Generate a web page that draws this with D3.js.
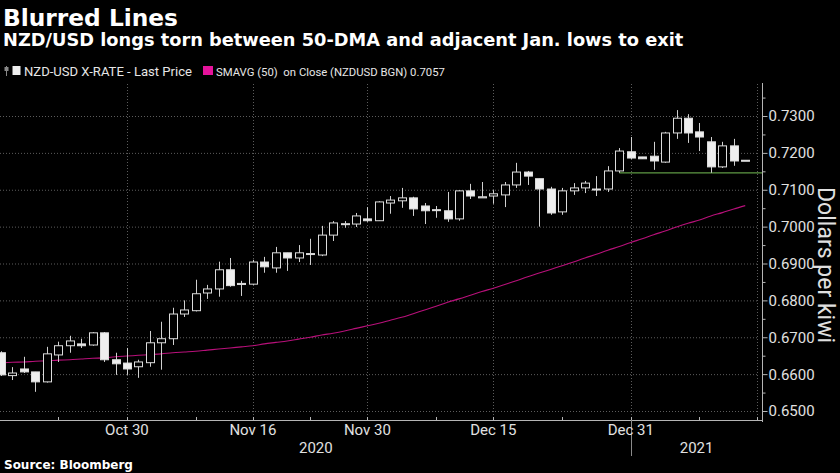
<!DOCTYPE html>
<html>
<head>
<meta charset="utf-8">
<script src="https://cdn.jsdelivr.net/npm/d3@7"></script>
<style>
  html, body { margin: 0; padding: 0; background: #000; }
  svg { display: block; }
</style>
</head>
<body>
<div id="chart"></div>
<script>
/* NZD/USD daily candles with 50-day moving average, Bloomberg style */

// trading days (weekdays, as Bloomberg FX shows them)
var dates = [
  "2020-10-15","2020-10-16","2020-10-19","2020-10-20","2020-10-21","2020-10-22","2020-10-23",
  "2020-10-26","2020-10-27","2020-10-28","2020-10-29","2020-10-30",
  "2020-11-02","2020-11-03","2020-11-04","2020-11-05","2020-11-06",
  "2020-11-09","2020-11-10","2020-11-11","2020-11-12","2020-11-13",
  "2020-11-16","2020-11-17","2020-11-18","2020-11-19","2020-11-20",
  "2020-11-23","2020-11-24","2020-11-25","2020-11-26","2020-11-27",
  "2020-11-30","2020-12-01","2020-12-02","2020-12-03","2020-12-04",
  "2020-12-07","2020-12-08","2020-12-09","2020-12-10","2020-12-11",
  "2020-12-14","2020-12-15","2020-12-16","2020-12-17","2020-12-18",
  "2020-12-21","2020-12-22","2020-12-23","2020-12-24","2020-12-25",
  "2020-12-28","2020-12-29","2020-12-30","2020-12-31","2021-01-01",
  "2021-01-04","2021-01-05","2021-01-06","2021-01-07","2021-01-08",
  "2021-01-11","2021-01-12","2021-01-13","2021-01-14"
];
var axisEnd = "2021-01-15";

var open = [
  0.6658,0.6596,0.6614,0.6606,0.6579,0.6652,0.6677,
  0.6682,0.6679,0.6712,0.6639,0.6630,
  0.6620,0.6631,0.6685,0.6696,0.6763,
  0.6772,0.6820,0.6831,0.6883,0.6846,
  0.6844,0.6904,0.6888,0.6929,0.6915,
  0.6925,0.6923,0.6977,0.7007,0.7007,
  0.7021,0.7016,0.7064,0.7070,0.7078,
  0.7056,0.7046,0.7043,0.7021,0.7097,
  0.7078,0.7083,0.7086,0.7113,0.7148,
  0.7130,0.7102,0.7040,0.7097,0.7105,
  0.7101,0.7102,0.7151,0.7203,0.7189,
  0.7191,0.7175,0.7254,0.7294,0.7257,
  0.7230,0.7162,0.7219,0.7180
];
var high = [
  0.6662,0.6619,0.6647,0.6606,0.6674,0.6688,0.6704,
  0.6696,0.6714,0.6714,0.6658,0.6671,
  0.6639,0.6717,0.6742,0.6780,0.6800,
  0.6856,0.6842,0.6905,0.6915,0.6853,
  0.6910,0.6918,0.6945,0.6929,0.6950,
  0.6967,0.7002,0.7015,0.7015,0.7037,
  0.7053,0.7069,0.7083,0.7105,0.7081,
  0.7064,0.7056,0.7094,0.7099,0.7116,
  0.7121,0.7099,0.7121,0.7173,0.7151,
  0.7130,0.7108,0.7105,0.7118,0.7124,
  0.7137,0.7164,0.7213,0.7243,0.7189,
  0.7230,0.7257,0.7316,0.7305,0.7281,
  0.7243,0.7230,0.7238,0.7180
];
var low = [
  0.6595,0.6584,0.6603,0.6552,0.6577,0.6633,0.6658,
  0.6671,0.6677,0.6633,0.6598,0.6598,
  0.6590,0.6620,0.6612,0.6679,0.6755,
  0.6770,0.6804,0.6810,0.6837,0.6812,
  0.6842,0.6875,0.6875,0.6880,0.6904,
  0.6896,0.6920,0.6961,0.6997,0.6999,
  0.7013,0.7016,0.7035,0.7051,0.7029,
  0.7007,0.7024,0.7013,0.7016,0.7075,
  0.7078,0.7062,0.7053,0.7105,0.7113,
  0.7000,0.7032,0.7032,0.7086,0.7091,
  0.7083,0.7094,0.7146,0.7183,0.7184,
  0.7154,0.7173,0.7238,0.7227,0.7205,
  0.7146,0.7159,0.7165,0.7178
];
var close = [
  0.6598,0.6603,0.6606,0.6579,0.6655,0.6677,0.6690,
  0.6677,0.6712,0.6639,0.6628,0.6614,
  0.6633,0.6685,0.6696,0.6763,0.6774,
  0.6818,0.6831,0.6883,0.6840,0.6843,
  0.6904,0.6891,0.6929,0.6915,0.6929,
  0.6927,0.6977,0.7010,0.7008,0.7029,
  0.7016,0.7067,0.7072,0.7078,0.7048,
  0.7043,0.7045,0.7021,0.7097,0.7083,
  0.7081,0.7089,0.7113,0.7148,0.7137,
  0.7102,0.7037,0.7097,0.7105,0.7118,
  0.7102,0.7151,0.7205,0.7186,0.7184,
  0.7178,0.7254,0.7294,0.7254,0.7243,
  0.7162,0.7219,0.7178,0.7179
];
// 50-day simple moving average
var sma50 = [
  0.6630,0.6632,0.6633,0.6635,0.6636,0.6638,0.6639,
  0.6641,0.6643,0.6644,0.6647,0.6649,
  0.6651,0.6653,0.6655,0.6658,0.6660,
  0.6662,0.6665,0.6668,0.6671,0.6674,
  0.6677,0.6682,0.6686,0.6690,0.6695,
  0.6700,0.6706,0.6711,0.6717,0.6724,
  0.6731,0.6738,0.6746,0.6754,0.6764,
  0.6774,0.6784,0.6795,0.6804,0.6814,
  0.6824,0.6833,0.6843,0.6853,0.6864,
  0.6874,0.6884,0.6894,0.6904,0.6915,
  0.6925,0.6936,0.6946,0.6957,0.6967,
  0.6978,0.6988,0.6999,0.7009,0.7018,
  0.7029,0.7038,0.7048,0.7057
];

var supportLevel = 0.7146;      // adjacent Jan. lows
var supportFrom = "2020-12-30";

var yTicks = [0.65, 0.66, 0.67, 0.68, 0.69, 0.70, 0.71, 0.72, 0.73];
var yMinor = [0.655, 0.665, 0.675, 0.685, 0.695, 0.705, 0.715, 0.725, 0.735];
var tickDates = ["2020-10-30", "2020-11-16", "2020-11-30", "2020-12-15", "2020-12-31"];
var tickLabels = ["Oct 30", "Nov 16", "Nov 30", "Dec 15", "Dec 31"];
var minorDates = ["2020-10-22", "2020-11-09", "2020-11-23", "2020-12-08", "2020-12-23", "2021-01-08", "2021-01-15"];
var yearLabels = ["2020", "2021"];

var W = 840, H = 473;
var plotRight = 762.5, plotTop = 84, plotBottom = 420;

var svg = d3.select("#chart").append("svg").attr("width", W).attr("height", H);
svg.append("rect").attr("width", W).attr("height", H).attr("fill", "#000");

var x = d3.scalePoint().domain(dates.concat([axisEnd])).range([1, 1 + 66 * 11.45]);
var y = d3.scaleLinear().domain([0.65, 0.73]).range([411, 116]);
var bodyW = 8;

function fit(sel, w) {
  var cur = sel.node().getComputedTextLength();
  var fs = parseFloat(sel.attr("font-size"));
  sel.attr("font-size", (fs * w / cur).toFixed(2));
}

// ---- titles ----
fit(svg.append("text").attr("x", 3).attr("y", 26)
  .attr("font-family", "DejaVu Sans").attr("font-weight", "bold").attr("font-size", 23)
  .attr("fill", "#fff").text("Blurred Lines"), 175);

fit(svg.append("text").attr("x", 3).attr("y", 46)
  .attr("font-family", "DejaVu Sans").attr("font-weight", "bold").attr("font-size", 17)
  .attr("fill", "#fff").text("NZD/USD longs torn between 50-DMA and adjacent Jan. lows to exit"), 681);

// ---- legend ----
var lg = svg.append("g");
lg.append("line").attr("x1", 6.5).attr("x2", 6.5).attr("y1", 66).attr("y2", 76).attr("stroke", "#888");
lg.append("rect").attr("x", 4.5).attr("y", 67).attr("width", 4).attr("height", 4).attr("fill", "#888");
lg.append("rect").attr("x", 12.5).attr("y", 66).attr("width", 8).attr("height", 9).attr("fill", "#eee");
fit(lg.append("text").attr("x", 24).attr("y", 75.5)
  .attr("font-family", "Roboto").attr("font-size", 12).attr("fill", "#e6e6e6")
  .text("NZD-USD X-RATE - Last Price"), 168);
lg.append("rect").attr("x", 203).attr("y", 66).attr("width", 10).attr("height", 9).attr("fill", "#e5139b");
fit(lg.append("text").attr("x", 216).attr("y", 75.5)
  .attr("font-family", "Roboto").attr("font-size", 12).attr("fill", "#e6e6e6")
  .style("white-space", "pre")
  .text("SMAVG (50)  on Close (NZDUSD BGN) " + sma50[sma50.length - 1].toFixed(4)), 229);

// ---- grid ----
var grid = svg.append("g").attr("stroke", "#5c5c5c").attr("stroke-dasharray", "1,2");
grid.selectAll("line.h").data(yTicks).join("line").attr("class", "h")
  .attr("x1", 0).attr("x2", 758).attr("y1", function (d) { return y(d) + 0.5; }).attr("y2", function (d) { return y(d) + 0.5; });
grid.selectAll("line.v").data(tickDates.concat([axisEnd])).join("line").attr("class", "v")
  .attr("y1", plotTop).attr("y2", plotBottom)
  .attr("x1", function (d) { return Math.round(x(d)) + 0.5; }).attr("x2", function (d) { return Math.round(x(d)) + 0.5; });

// ---- support line ----
svg.append("line")
  .attr("x1", x(supportFrom)).attr("x2", plotRight)
  .attr("y1", y(supportLevel)).attr("y2", y(supportLevel))
  .attr("stroke", "#5f9a45").attr("stroke-width", 1.2);

// ---- moving average ----
svg.append("path")
  .datum(sma50)
  .attr("fill", "none").attr("stroke", "#b8107a").attr("stroke-width", 1.1)
  .attr("d", d3.line().curve(d3.curveMonotoneX)
    .x(function (d, i) { return x(dates[i]); }).y(function (d) { return y(d); }));

// ---- candles ----
var candles = dates.map(function (d, i) {
  return { date: d, o: open[i], h: high[i], l: low[i], c: close[i] };
});
var cg = svg.append("g").selectAll("g").data(candles).join("g");
cg.append("line")
  .attr("x1", function (d) { return Math.round(x(d.date)) + 0.5; })
  .attr("x2", function (d) { return Math.round(x(d.date)) + 0.5; })
  .attr("y1", function (d) { return y(d.h); }).attr("y2", function (d) { return y(d.l); })
  .attr("stroke", "#d0d0d0").attr("stroke-width", 1);
cg.append("rect")
  .attr("x", function (d) { return Math.round(x(d.date)) - bodyW / 2 + 0.5; })
  .attr("width", bodyW)
  .attr("y", function (d) { return y(Math.max(d.o, d.c)); })
  .attr("height", function (d) { return Math.max(1, Math.abs(y(d.o) - y(d.c))); })
  .attr("fill", function (d) { return d.c >= d.o ? "#000" : "#eeeeee"; })
  .attr("stroke", "#dcdcdc").attr("stroke-width", 1);

// ---- right axis ----
var ax = svg.append("g").attr("stroke", "#b5b5b5");
ax.append("line").attr("x1", plotRight).attr("x2", plotRight).attr("y1", 83).attr("y2", 422);
ax.selectAll("line.maj").data(yTicks).join("line").attr("class", "maj")
  .attr("x1", plotRight).attr("x2", plotRight + 5)
  .attr("y1", function (d) { return y(d) + 0.5; }).attr("y2", function (d) { return y(d) + 0.5; });
ax.selectAll("line.min").data(yMinor).join("line").attr("class", "min")
  .attr("x1", plotRight).attr("x2", plotRight + 3)
  .attr("y1", function (d) { return y(d) + 0.5; }).attr("y2", function (d) { return y(d) + 0.5; });
svg.append("g").selectAll("text").data(yTicks).join("text")
  .attr("x", 768.5).attr("y", function (d) { return y(d); }).attr("dy", "0.36em")
  .attr("font-family", "Roboto").attr("font-size", 15).attr("fill", "#e0e0e0")
  .text(d3.format(".4f"));

var ylab = svg.append("text")
  .attr("transform", "translate(818,265) rotate(90)")
  .attr("text-anchor", "middle")
  .attr("font-family", "Roboto").attr("font-size", 19).attr("fill", "#e0e0e0")
  .text("Dollars per kiwi");
fit(ylab, 156);

// ---- bottom axis ----
var bx = svg.append("g").attr("stroke", "#b5b5b5");
bx.append("line").attr("x1", 0).attr("x2", plotRight).attr("y1", plotBottom + 0.5).attr("y2", plotBottom + 0.5);
bx.selectAll("line.t").data(tickDates.concat(minorDates)).join("line").attr("class", "t")
  .attr("x1", function (d) { return Math.round(x(d)) + 0.5; }).attr("x2", function (d) { return Math.round(x(d)) + 0.5; })
  .attr("y1", plotBottom - 3).attr("y2", plotBottom + 1);
// year separator
bx.append("line")
  .attr("x1", Math.round(x("2020-12-31")) + 0.5).attr("x2", Math.round(x("2020-12-31")) + 0.5)
  .attr("y1", plotBottom).attr("y2", 456).attr("stroke", "#8a8a8a");

svg.append("g").selectAll("text").data(tickDates).join("text")
  .attr("x", function (d) { return x(d); }).attr("y", 435)
  .attr("text-anchor", "middle")
  .attr("font-family", "Roboto").attr("font-size", 15).attr("fill", "#e0e0e0")
  .text(function (d, i) { return tickLabels[i]; });

var sep = x("2020-12-31");
svg.append("g").selectAll("text").data(yearLabels).join("text")
  .attr("x", function (d, i) { return i === 0 ? (x(dates[0]) + sep) / 2 : (sep + plotRight) / 2; })
  .attr("y", 452.5)
  .attr("text-anchor", "middle")
  .attr("font-family", "Roboto").attr("font-size", 15).attr("fill", "#e0e0e0")
  .text(function (d) { return d; });

// ---- source ----
fit(svg.append("text").attr("x", 4).attr("y", 469)
  .attr("font-family", "DejaVu Sans").attr("font-weight", "bold").attr("font-size", 12)
  .attr("fill", "#fff").text("Source: Bloomberg"), 129);
</script>
</body>
</html>
